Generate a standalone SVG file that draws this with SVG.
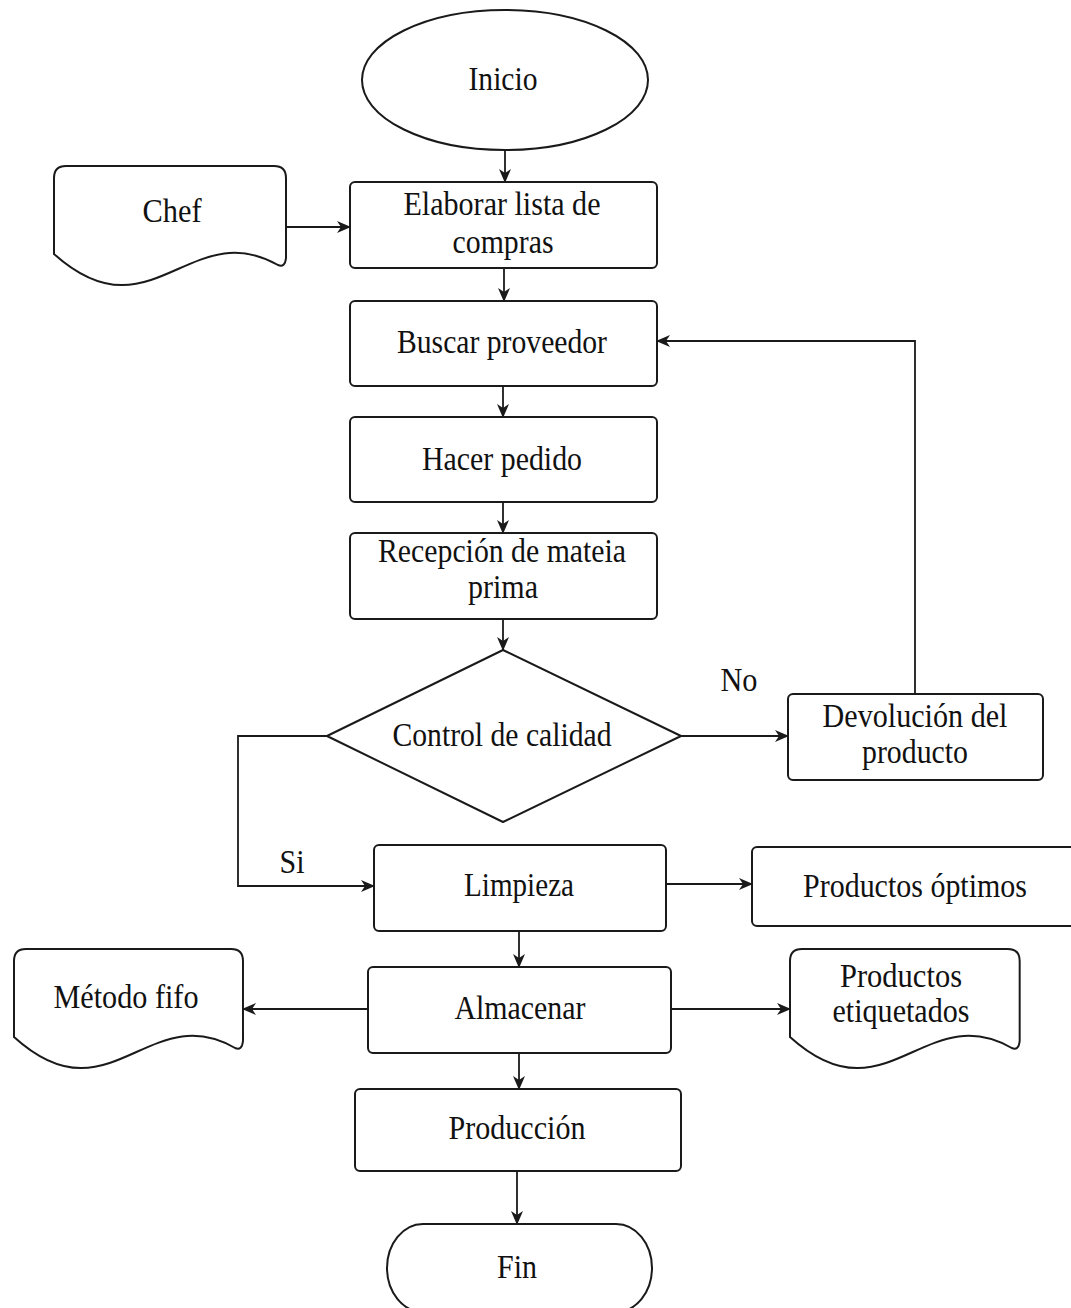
<svg xmlns="http://www.w3.org/2000/svg" width="1071" height="1308" viewBox="0 0 1071 1308">
  <style>
    .shape { fill: #ffffff; stroke: #1a1a1a; stroke-width: 2; }
    .edge { fill: none; stroke: #1a1a1a; stroke-width: 1.8; marker-end: url(#arrow); }
    .lbl { font-family: "Liberation Serif", "Times New Roman", serif; font-size: 33.5px; fill: #111111; text-anchor: middle; }
  </style>
  <defs>
    <marker id="arrow" viewBox="0 0 14 12" refX="13" refY="6" markerWidth="14" markerHeight="12" markerUnits="userSpaceOnUse" orient="auto">
      <path d="M0,0 L14,6 L0,12 L4,6 Z" fill="#1a1a1a"/>
    </marker>
    <!-- document symbol with wavy bottom edge, 232 wide -->
    <path id="doc" d="M0,12 Q0,0 12,0 L220,0 Q232,0 232,12 L232,92 Q231,102 224,99 C136,49 96,174 0,88 Z"/>
  </defs>

  <rect width="1071" height="1308" fill="#ffffff"/>

  <g id="connectors">
    <path class="edge" d="M505,150 L505,182"/>
    <path class="edge" d="M286,227 L350,227"/>
    <path class="edge" d="M504,268 L504,301"/>
    <path class="edge" d="M503,386 L503,417"/>
    <path class="edge" d="M503,502 L503,533"/>
    <path class="edge" d="M503,619 L503,650"/>
    <path class="edge" d="M681,736 L788,736"/>
    <path class="edge" d="M915,694 L915,341 L657,341"/>
    <path class="edge" d="M327,736 L238,736 L238,886 L374,886"/>
    <path class="edge" d="M666,884 L752,884"/>
    <path class="edge" d="M519,931 L519,967"/>
    <path class="edge" d="M368,1009 L243,1009"/>
    <path class="edge" d="M671,1009 L790,1009"/>
    <path class="edge" d="M519,1053 L519,1089"/>
    <path class="edge" d="M517,1171 L517,1224"/>
  </g>

  <g id="inicio">
    <ellipse class="shape" cx="505" cy="80" rx="143" ry="70"/>
    <text class="lbl" x="503" y="90" textLength="69" lengthAdjust="spacingAndGlyphs">Inicio</text>
  </g>

  <g id="chef">
    <use href="#doc" class="shape" transform="translate(54,166)"/>
    <text class="lbl" x="172" y="222" textLength="59" lengthAdjust="spacingAndGlyphs">Chef</text>
  </g>

  <g id="elaborar">
    <rect class="shape" x="350" y="182" width="307" height="86" rx="5"/>
    <text class="lbl" x="502" y="215" textLength="197" lengthAdjust="spacingAndGlyphs">Elaborar lista de</text>
    <text class="lbl" x="503" y="253" textLength="101" lengthAdjust="spacingAndGlyphs">compras</text>
  </g>

  <g id="buscar">
    <rect class="shape" x="350" y="301" width="307" height="85" rx="5"/>
    <text class="lbl" x="502" y="353" textLength="210" lengthAdjust="spacingAndGlyphs">Buscar proveedor</text>
  </g>

  <g id="hacer">
    <rect class="shape" x="350" y="417" width="307" height="85" rx="5"/>
    <text class="lbl" x="502" y="470" textLength="160" lengthAdjust="spacingAndGlyphs">Hacer pedido</text>
  </g>

  <g id="recepcion">
    <rect class="shape" x="350" y="533" width="307" height="86" rx="5"/>
    <text class="lbl" x="502" y="562" textLength="248" lengthAdjust="spacingAndGlyphs">Recepción de mateia</text>
    <text class="lbl" x="503" y="598" textLength="70" lengthAdjust="spacingAndGlyphs">prima</text>
  </g>

  <g id="control">
    <path class="shape" d="M503,650 L681,736 L503,822 L327,736 Z" stroke-linejoin="round"/>
    <text class="lbl" x="502" y="746" textLength="219" lengthAdjust="spacingAndGlyphs">Control de calidad</text>
  </g>

  <text class="lbl" x="739" y="691" textLength="37" lengthAdjust="spacingAndGlyphs">No</text>
  <text class="lbl" x="292" y="873" textLength="25" lengthAdjust="spacingAndGlyphs">Si</text>

  <g id="devolucion">
    <rect class="shape" x="788" y="694" width="255" height="86" rx="5"/>
    <text class="lbl" x="915" y="727" textLength="185" lengthAdjust="spacingAndGlyphs">Devolución del</text>
    <text class="lbl" x="915" y="763" textLength="106" lengthAdjust="spacingAndGlyphs">producto</text>
  </g>

  <g id="limpieza">
    <rect class="shape" x="374" y="845" width="292" height="86" rx="5"/>
    <text class="lbl" x="519" y="896" textLength="110" lengthAdjust="spacingAndGlyphs">Limpieza</text>
  </g>

  <g id="optimos">
    <rect class="shape" x="752" y="847" width="330" height="79" rx="5"/>
    <text class="lbl" x="915" y="897" textLength="224" lengthAdjust="spacingAndGlyphs">Productos óptimos</text>
  </g>

  <g id="metodo-fifo">
    <use href="#doc" class="shape" transform="translate(14,949) scale(0.987,1)"/>
    <text class="lbl" x="126" y="1008" textLength="145" lengthAdjust="spacingAndGlyphs">Método fifo</text>
  </g>

  <g id="almacenar">
    <rect class="shape" x="368" y="967" width="303" height="86" rx="5"/>
    <text class="lbl" x="520" y="1019" textLength="131" lengthAdjust="spacingAndGlyphs">Almacenar</text>
  </g>

  <g id="etiquetados">
    <use href="#doc" class="shape" transform="translate(790,949) scale(0.99,1)"/>
    <text class="lbl" x="901" y="987" textLength="122" lengthAdjust="spacingAndGlyphs">Productos</text>
    <text class="lbl" x="901" y="1022" textLength="137" lengthAdjust="spacingAndGlyphs">etiquetados</text>
  </g>

  <g id="produccion">
    <rect class="shape" x="355" y="1089" width="326" height="82" rx="5"/>
    <text class="lbl" x="517" y="1139" textLength="137" lengthAdjust="spacingAndGlyphs">Producción</text>
  </g>

  <g id="fin">
    <rect class="shape" x="387" y="1224" width="265" height="88" rx="36" ry="44"/>
    <text class="lbl" x="517" y="1278" textLength="40" lengthAdjust="spacingAndGlyphs">Fin</text>
  </g>
</svg>
